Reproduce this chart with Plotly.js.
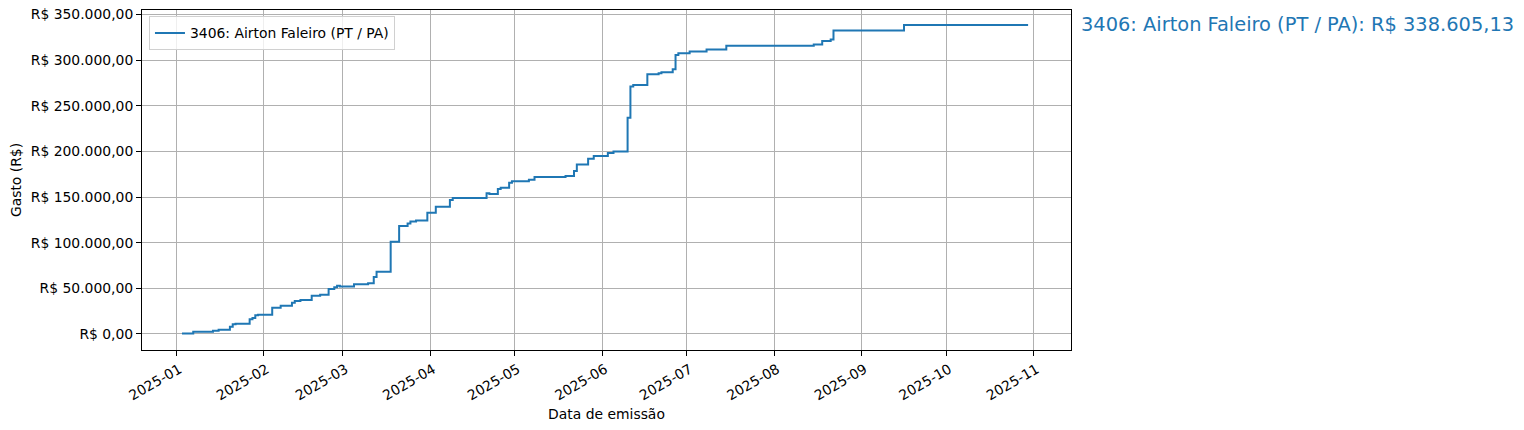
<!DOCTYPE html>
<html>
<head>
<meta charset="utf-8">
<script src="https://cdn.plot.ly/plotly-3.0.1.min.js"></script>
<style>
  html, body { margin: 0; padding: 0; background: #ffffff; }
  #chart { width: 1524px; height: 430px; }
</style>
</head>
<body>
<div id="chart"></div>
<script>
// Cumulative spending (R$) by issue date
const seriesName = "3406: Airton Faleiro (PT / PA)";
const dates = [
  "2025-01-03", "2025-01-07", "2025-01-14", "2025-01-16", "2025-01-20",
  "2025-01-21", "2025-01-22", "2025-01-27", "2025-01-28", "2025-01-29",
  "2025-01-30", "2025-02-04", "2025-02-07", "2025-02-11", "2025-02-12",
  "2025-02-14", "2025-02-18", "2025-02-21", "2025-02-24", "2025-02-26",
  "2025-02-27", "2025-02-28", "2025-03-05", "2025-03-10", "2025-03-12",
  "2025-03-13", "2025-03-18", "2025-03-21", "2025-03-24", "2025-03-25",
  "2025-03-27", "2025-03-31", "2025-04-03", "2025-04-08", "2025-04-09",
  "2025-04-21", "2025-04-22", "2025-04-25", "2025-04-26", "2025-04-29",
  "2025-04-30", "2025-05-06", "2025-05-08", "2025-05-19", "2025-05-22",
  "2025-05-23", "2025-05-27", "2025-05-29", "2025-06-03", "2025-06-05",
  "2025-06-10", "2025-06-11", "2025-06-12", "2025-06-17", "2025-06-21",
  "2025-06-22", "2025-06-26", "2025-06-27", "2025-06-28", "2025-07-02",
  "2025-07-08", "2025-07-15", "2025-08-15", "2025-08-18", "2025-08-21",
  "2025-08-22", "2025-09-16", "2025-10-30"
];
const cumulative = [
  400, 2500, 3600, 4700, 8000,
  10600, 11300, 16100, 17500, 20500,
  21200, 28800, 31000, 34300, 36200,
  37300, 42000, 43100, 49300, 51200,
  52900, 52000, 54400, 55500, 62500,
  68300, 101100, 118300, 120900, 123100,
  124200, 132900, 139500, 146800, 149000,
  154200, 153400, 158900, 160300, 165800,
  167300, 169100, 172000, 173100, 178600,
  185600, 192000, 195000, 198300, 199800,
  237000, 271000, 272900, 284600, 285600,
  286800, 290000, 305700, 307500, 309400,
  311600, 315800, 317200, 321100, 322700,
  332400, 338605.13, 338605.13
];
const totalValue = 338605.13;
const yTickVals = [0, 50000, 100000, 150000, 200000, 250000, 300000, 350000];
const yTickText = [
  "R$ 0,00", "R$ 50.000,00", "R$ 100.000,00", "R$ 150.000,00",
  "R$ 200.000,00", "R$ 250.000,00", "R$ 300.000,00", "R$ 350.000,00"
];

function formatBRL(v) {
  const parts = v.toFixed(2).split(".");
  const intPart = parts[0].replace(/\B(?=(\d{3})+(?!\d))/g, ".");
  return "R$ " + intPart + "," + parts[1];
}

const FONT = "DejaVu Sans, Liberation Sans, sans-serif";
const BLUE = "#1f77b4";

const trace = {
  type: "scatter",
  mode: "lines",
  x: dates,
  y: cumulative,
  name: seriesName,
  line: { color: BLUE, width: 2, shape: "hv" },
  showlegend: true
};

const layout = {
  width: 1524,
  height: 430,
  margin: { l: 142, r: 453, t: 10, b: 80, pad: 0 },
  paper_bgcolor: "#ffffff",
  plot_bgcolor: "#ffffff",
  font: { family: FONT, size: 13.9, color: "#000000" },
  showlegend: true,
  legend: {
    x: 0.0075, y: 0.981, xanchor: "left", yanchor: "top",
    bgcolor: "rgba(255,255,255,0.8)",
    bordercolor: "#d0d0d0", borderwidth: 1,
    font: { family: FONT, size: 13.9, color: "#000000" }
  },
  xaxis: {
    type: "date",
    range: ["2024-12-19 20:00", "2025-11-14 05:00"],
    tick0: "2025-01-01",
    dtick: "M1",
    tickformat: "%Y-%m",
    tickangle: -30,
    ticklabelshift: 3,
    ticks: "outside", ticklen: 5, tickwidth: 1, tickcolor: "#000000",
    showgrid: true, gridcolor: "#b0b0b0", gridwidth: 1,
    showline: true, linecolor: "#000000", linewidth: 1, mirror: true,
    zeroline: false,
    tickfont: { family: FONT, size: 13.9, color: "#000000" },
    title: { text: "Data de emissão", font: { family: FONT, size: 13.9, color: "#000000" }, standoff: 6 },
    automargin: false
  },
  yaxis: {
    range: [-17555, 354940],
    tickvals: yTickVals,
    ticktext: yTickText,
    ticks: "outside", ticklen: 5, tickwidth: 1, tickcolor: "#000000",
    showgrid: true, gridcolor: "#b0b0b0", gridwidth: 1,
    showline: true, linecolor: "#000000", linewidth: 1, mirror: true,
    zeroline: false,
    tickfont: { family: FONT, size: 13.9, color: "#000000" },
    title: { text: "Gasto (R$)", font: { family: FONT, size: 13.9, color: "#000000" }, standoff: 5 },
    automargin: false
  },
  annotations: [{
    xref: "paper", yref: "y",
    x: 1.0086, y: totalValue,
    xanchor: "left", yanchor: "middle",
    text: seriesName + ": " + formatBRL(totalValue),
    showarrow: false,
    font: { family: FONT, size: 19.4, color: BLUE }
  }]
};

Plotly.newPlot("chart", [trace], layout, { displayModeBar: false, responsive: false });
</script>
</body>
</html>
